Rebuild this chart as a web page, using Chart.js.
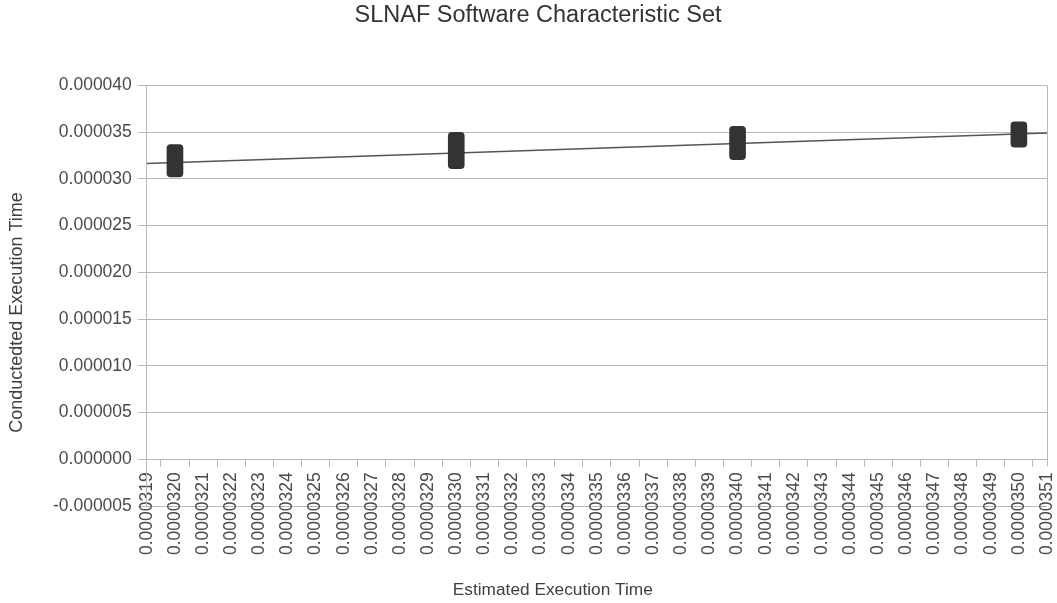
<!DOCTYPE html>
<html>
<head>
<meta charset="utf-8">
<title>SLNAF Software Characteristic Set</title>
<script src="https://cdn.jsdelivr.net/npm/chart.js@4"></script>
<style>
  html, body { margin: 0; padding: 0; background: #ffffff; }
  #wrap { width: 1057px; height: 603px; }
</style>
</head>
<body>
<div id="wrap"><canvas id="chart" width="1057" height="603"></canvas></div>
<script>
// Measured runs: estimated vs. conducted execution time (seconds)
const estimatedTimes = [0.0000320, 0.0000330, 0.0000340, 0.0000350];
const conductedLow   = [0.00003022, 0.00003111, 0.00003207, 0.00003339];
const conductedHigh  = [0.00003368, 0.00003500, 0.00003564, 0.00003611];

// Linear trend across the estimated range
const trendX = [0.0000319, 0.0000351];
const trendY = [0.00003164, 0.00003492];

// Axis tick labels
const xTickLabels = [
  "0.0000319", "0.0000320", "0.0000321", "0.0000322", "0.0000323", "0.0000324",
  "0.0000325", "0.0000326", "0.0000327", "0.0000328", "0.0000329", "0.0000330",
  "0.0000331", "0.0000332", "0.0000333", "0.0000334", "0.0000335", "0.0000336",
  "0.0000337", "0.0000338", "0.0000339", "0.0000340", "0.0000341", "0.0000342",
  "0.0000343", "0.0000344", "0.0000345", "0.0000346", "0.0000347", "0.0000348",
  "0.0000349", "0.0000350", "0.0000351"
];
const yTickLabels = [
  "-0.000005", "0.000000", "0.000005", "0.000010", "0.000015",
  "0.000020", "0.000025", "0.000030", "0.000035", "0.000040"
];

// Titles
const chartTitle = 'SLNAF Software Characteristic Set';
const xAxisTitle = 'Estimated Execution Time';
const yAxisTitle = 'Conductedted Execution Time';

const FONT = '"Liberation Sans", Arial, Helvetica, sans-serif';
const GRID = '#b8b8b8';
const TEXT = '#4a4a4a';
const X_TICK_LEN = 7;

// Right-hand frame line, from the top of the plot down to the x-axis ticks
const rightFrame = {
  id: 'rightFrame',
  afterDatasetsDraw(chart) {
    const { ctx, chartArea, scales } = chart;
    const yZero = scales.y.getPixelForValue(0);
    ctx.save();
    ctx.strokeStyle = GRID;
    ctx.lineWidth = 1;
    ctx.beginPath();
    ctx.moveTo(Math.round(chartArea.right) + 0.5, chartArea.top);
    ctx.lineTo(Math.round(chartArea.right) + 0.5, yZero + X_TICK_LEN);
    ctx.stroke();
    ctx.restore();
  }
};

// Main title and axis titles, placed in the page margins around the plot
const titles = {
  id: 'titles',
  afterDraw(chart) {
    const { ctx, chartArea } = chart;
    ctx.save();
    ctx.textAlign = 'center';
    ctx.textBaseline = 'middle';

    ctx.fillStyle = '#333333';
    ctx.font = '23.5px ' + FONT;
    ctx.fillText(chartTitle, 538, 16);

    ctx.fillStyle = '#404040';
    ctx.font = '17.3px ' + FONT;
    ctx.fillText(xAxisTitle, chartArea.left + 406, chartArea.bottom + 84);

    ctx.font = '18px ' + FONT;
    ctx.translate(17.5, chartArea.top + 227);
    ctx.rotate(-Math.PI / 2);
    ctx.fillText(yAxisTitle, 0, 0);
    ctx.restore();
  }
};

new Chart(document.getElementById('chart'), {
  type: 'bar',
  data: {
    datasets: [
      {
        type: 'line',
        label: 'Trend',
        data: trendX.map((x, i) => ({ x: x, y: trendY[i] })),
        borderColor: '#555555',
        borderWidth: 1.5,
        pointRadius: 0,
        fill: false,
        order: 2
      },
      {
        type: 'bar',
        label: 'Conducted Execution Time',
        data: estimatedTimes.map((x, i) => ({ x: x, y: [conductedLow[i], conductedHigh[i]] })),
        backgroundColor: '#333333',
        borderWidth: 0,
        borderRadius: 4,
        borderSkipped: false,
        barThickness: 16,
        order: 1
      }
    ]
  },
  options: {
    responsive: false,
    animation: false,
    events: [],
    layout: { padding: { left: 47, right: 10, top: 85.5, bottom: 97 } },
    plugins: {
      legend: { display: false },
      tooltip: { enabled: false },
      title: { display: false }
    },
    scales: {
      x: {
        type: 'linear',
        position: { y: 0 },
        offset: false,
        min: 0.0000319,
        max: 0.0000351,
        afterBuildTicks(scale) {
          scale.ticks = xTickLabels.map(t => ({ value: parseFloat(t) }));
        },
        afterFit(scale) {
          // rotated labels should not push the plot's right edge inwards
          scale.paddingRight = 10;
          scale.paddingLeft = 0;
        },
        ticks: {
          autoSkip: false,
          minRotation: 90,
          maxRotation: 90,
          padding: 6,
          color: TEXT,
          font: { family: FONT, size: 17.5 },
          callback: (v, i) => xTickLabels[i]
        },
        grid: {
          drawOnChartArea: false,
          drawTicks: true,
          tickLength: X_TICK_LEN,
          color: GRID,
          tickColor: GRID
        },
        border: { display: true, color: GRID }
      },
      y: {
        type: 'linear',
        position: 'left',
        min: -0.000005,
        max: 0.000040,
        afterBuildTicks(scale) {
          scale.ticks = yTickLabels.map(t => ({ value: parseFloat(t) }));
        },
        ticks: {
          padding: 6,
          color: TEXT,
          font: { family: FONT, size: 17.5 },
          callback: (v, i) => yTickLabels[i]
        },
        grid: {
          color: GRID,
          tickColor: GRID,
          tickLength: 9
        },
        border: { display: true, color: GRID }
      }
    }
  },
  plugins: [rightFrame, titles]
});
</script>
</body>
</html>
